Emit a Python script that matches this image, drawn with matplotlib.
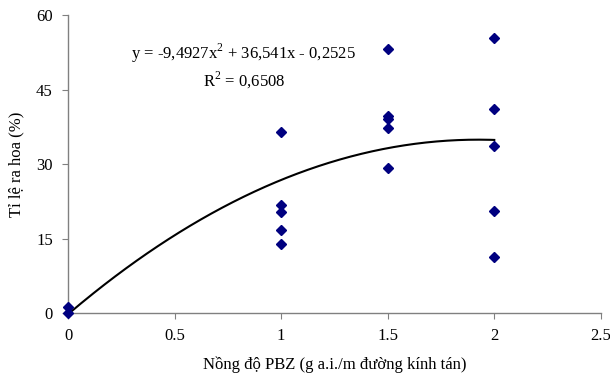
import numpy as np
import matplotlib
matplotlib.use("Agg")
import matplotlib.pyplot as plt

plt.rcParams['font.family'] = ['Liberation Serif', 'DejaVu Serif']
plt.rcParams['mathtext.fontset'] = 'custom'
plt.rcParams['mathtext.rm'] = 'Liberation Serif'

# Data
x_vals = [0, 0, 1, 1, 1, 1, 1, 1.5, 1.5, 1.5, 1.5, 1.5, 2, 2, 2, 2, 2]
y_vals = [0.0, 1.2, 36.5, 21.8, 20.4, 16.8, 13.8,
          53.2, 39.6, 39.0, 37.3, 29.3,
          55.3, 41.0, 33.7, 20.5, 11.3]
coef = [-9.4927, 36.541, -0.2525]
xticks = [0, 0.5, 1, 1.5, 2, 2.5]
xtick_labels = ['0', '0.5', '1', '1.5', '2', '2.5']
yticks = [0, 15, 30, 45, 60]

fig = plt.figure(figsize=(6.1, 3.78), dpi=100)
ax = fig.add_axes([0.1115, 0.172, 0.8735, 0.788])

xc = np.linspace(0, 2, 200)
ax.plot(xc, np.polyval(coef, xc), color='black', lw=1.5, zorder=2)
ax.plot(x_vals, y_vals, linestyle='none', marker='D', ms=5.2,
        color='#000080', zorder=3, clip_on=False)

ax.set_xlim(0, 2.5)
ax.set_ylim(0, 60)
ax.set_xticks(xticks)
ax.set_xticklabels(xtick_labels)
ax.set_yticks(yticks)
for s in ['top', 'right']:
    ax.spines[s].set_visible(False)
for s in ['left', 'bottom']:
    ax.spines[s].set_color('#808080')
    ax.spines[s].set_linewidth(1.0)
ax.tick_params(axis='both', direction='out', length=4, color='#808080',
               labelsize=12, labelcolor='black', pad=7)

ax.set_xlabel('Nồng độ PBZ (g a.i./m đường kính tán)', fontsize=12, labelpad=9)
ax.set_ylabel('Tỉ lệ ra hoa (%)', fontsize=12, labelpad=8)

ax.text(0.33, 0.827, 'y = -9,4927x$^{2}$ + 36,541x - 0,2525\nR$^{2}$ = 0,6508',
        transform=ax.transAxes, ha='center', va='center', fontsize=12,
        linespacing=1.3, multialignment='center')

fig.savefig('out.png', dpi=100)
